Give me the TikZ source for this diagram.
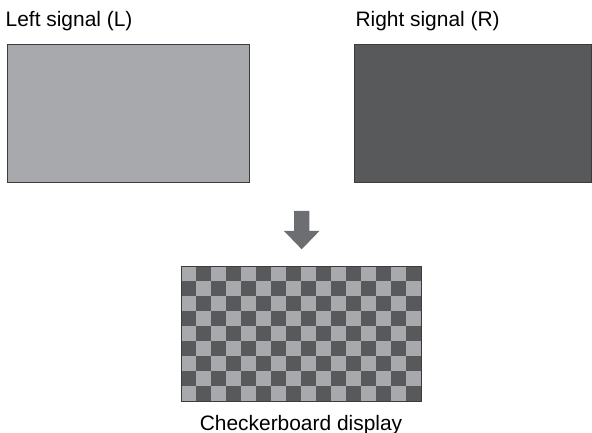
\documentclass[tikz,border=0pt]{standalone}
\usepackage{fontspec}
\setmainfont{Liberation Sans}
\usetikzlibrary{calc}

\begin{document}
\begin{tikzpicture}[x=1bp, y=-1bp]
    % Define colours
    \definecolor{borderColour}{HTML}{3C3C3E}
    \definecolor{lightColour}{HTML}{A7A9AC}
    \definecolor{darkColour}{HTML}{58595B}
    \definecolor{arrowColour}{HTML}{6D6E71}

    \tikzset{
        signalBox/.style={draw=borderColour, line width=0.9bp, inner sep=0pt,
            minimum width=242bp, minimum height=138bp, anchor=north west},
        signalLabel/.style={inner sep=0pt, anchor=base west,
            font=\fontsize{21}{25}\selectfont}
    }

    % Fix the page size
    \useasboundingbox (0,0) rectangle (592,433);

    % Draw the two signal boxes
    \node[signalLabel] (leftLabel) at (5.5,27) {Left signal (L)};
    \node[signalBox, fill=lightColour] (leftBox) at (7,44) {};
    \node[signalLabel] (rightLabel) at (355.3,27) {Right signal (R)};
    \node[signalBox, fill=darkColour, minimum width=237bp] (rightBox) at (354,44) {};

    % Draw the arrow
    \coordinate (tip) at (301.7,249.3);
    \fill[arrowColour] ($(tip)+(-7.6,-38.3)$) -- ($(tip)+(7.6,-38.3)$) -- ($(tip)+(7.6,-18.3)$)
        -- ($(tip)+(17.7,-18.3)$) -- (tip) -- ($(tip)+(-17.7,-18.3)$) -- ($(tip)+(-7.6,-18.3)$) -- cycle;

    % Draw the checkerboard, 16 by 9 cells of 15bp
    \fill[lightColour] (181,266) rectangle (421,401);
    \foreach \row in {0,...,8}
        \foreach \col in {0,...,15} {
            \pgfmathtruncatemacro{\odd}{mod(\row+\col,2)}
            \ifnum\odd=1
                \fill[darkColour] (181+15*\col,266+15*\row) rectangle (196+15*\col,281+15*\row);
            \fi
        }
    \draw[borderColour, line width=0.9bp] (181,266) rectangle (421,401);

    % Label the checkerboard
    \node[signalLabel, anchor=base] (boardLabel) at (301,430) {Checkerboard display};

\end{tikzpicture}
\end{document}
